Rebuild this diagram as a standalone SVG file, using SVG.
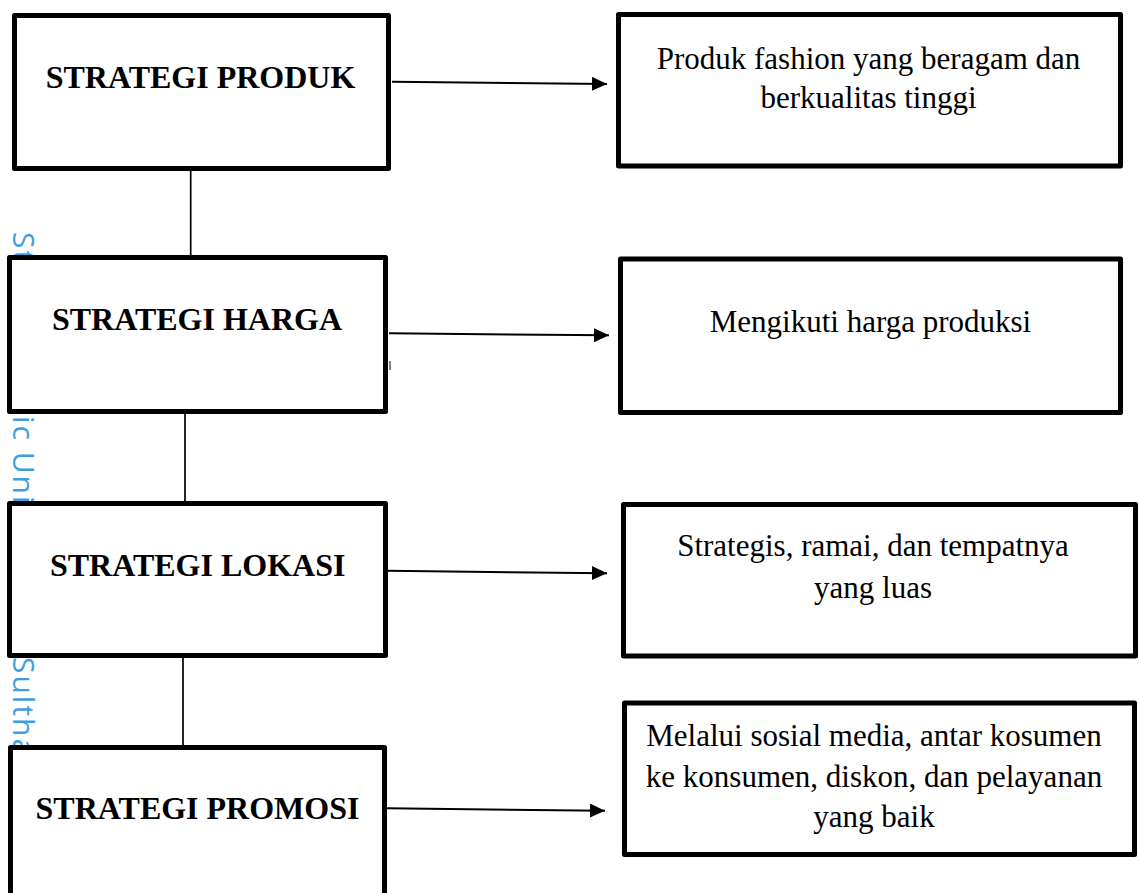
<svg xmlns="http://www.w3.org/2000/svg" width="1139" height="893" viewBox="0 0 1139 893">
<style>
.box{fill:#fff;stroke:#000;stroke-width:5;stroke-linejoin:round}
.lbl{font-family:"Liberation Serif","Times New Roman",serif;font-weight:bold;font-size:32px;fill:#000;text-anchor:middle}
.txt{font-family:"Liberation Serif","Times New Roman",serif;font-size:31px;fill:#000;text-anchor:middle}
.wm{font-family:"Open Sans","Noto Sans",sans-serif;font-size:30px;fill:#3d9ee0;letter-spacing:2px}
.vline{stroke:#000;stroke-width:1.7;fill:none}
.arrow{stroke:#000;stroke-width:2;fill:none;marker-end:url(#ah)}
</style>
<defs>
<marker id="ah" markerUnits="userSpaceOnUse" markerWidth="16" markerHeight="15" refX="15" refY="7" orient="auto">
<path d="M0,0 L15,7 L0,14 Z" fill="#000"/>
</marker>
</defs>
<rect width="1139" height="893" fill="#fff"/>
<g id="watermark">
<text class="wm" transform="translate(13,232) rotate(90)">St</text>
<text class="wm" transform="translate(13,416) rotate(90)">ic Uni</text>
<text class="wm" transform="translate(13,657) rotate(90)">Sultha</text>
</g>
<g id="connectors">
<line class="vline" x1="190.7" y1="171" x2="190.7" y2="256"/>
<line class="vline" x1="185" y1="413" x2="185" y2="502"/>
<line class="vline" x1="183" y1="657" x2="183" y2="746"/>
<line class="arrow" x1="392" y1="81.7" x2="607" y2="84"/>
<line class="arrow" x1="389" y1="333.3" x2="609" y2="335.3"/>
<line class="arrow" x1="387" y1="570.7" x2="607" y2="573.3"/>
<line class="arrow" x1="387" y1="808.3" x2="605" y2="810.7"/>
<line x1="390" y1="361" x2="390" y2="370" stroke="#000" stroke-width="1"/>
</g>
<g id="strategi-produk">
<rect class="box" x="14.5" y="15.5" width="374" height="153"/>
<text class="lbl" x="200.5" y="88">STRATEGI PRODUK</text>
</g>
<g id="strategi-harga">
<rect class="box" x="9.5" y="257.5" width="376" height="154"/>
<text class="lbl" x="197" y="330">STRATEGI HARGA</text>
</g>
<g id="strategi-lokasi">
<rect class="box" x="9.5" y="503.5" width="376" height="152"/>
<text class="lbl" x="197.7" y="576">STRATEGI LOKASI</text>
</g>
<g id="strategi-promosi">
<rect class="box" x="10.5" y="747.5" width="374" height="170"/>
<text class="lbl" x="197.5" y="818.5">STRATEGI PROMOSI</text>
</g>
<g id="produk-desc">
<rect class="box" x="618.5" y="14.5" width="502" height="151.5"/>
<text class="txt" x="868.5" y="69">Produk fashion yang beragam dan</text>
<text class="txt" x="868.5" y="108">berkualitas tinggi</text>
</g>
<g id="harga-desc">
<rect class="box" x="620.5" y="259" width="500" height="153.5"/>
<text class="txt" x="870.5" y="331.5">Mengikuti harga produksi</text>
</g>
<g id="lokasi-desc">
<rect class="box" x="623.5" y="504.5" width="512" height="151.5"/>
<text class="txt" x="873" y="556">Strategis, ramai, dan tempatnya</text>
<text class="txt" x="873" y="597.5">yang luas</text>
</g>
<g id="promosi-desc">
<rect class="box" x="624.5" y="703" width="510" height="151.5"/>
<text class="txt" x="874" y="745.5">Melalui sosial media, antar kosumen</text>
<text class="txt" x="874" y="786.5">ke konsumen, diskon, dan pelayanan</text>
<text class="txt" x="874" y="827">yang baik</text>
</g>
</svg>
